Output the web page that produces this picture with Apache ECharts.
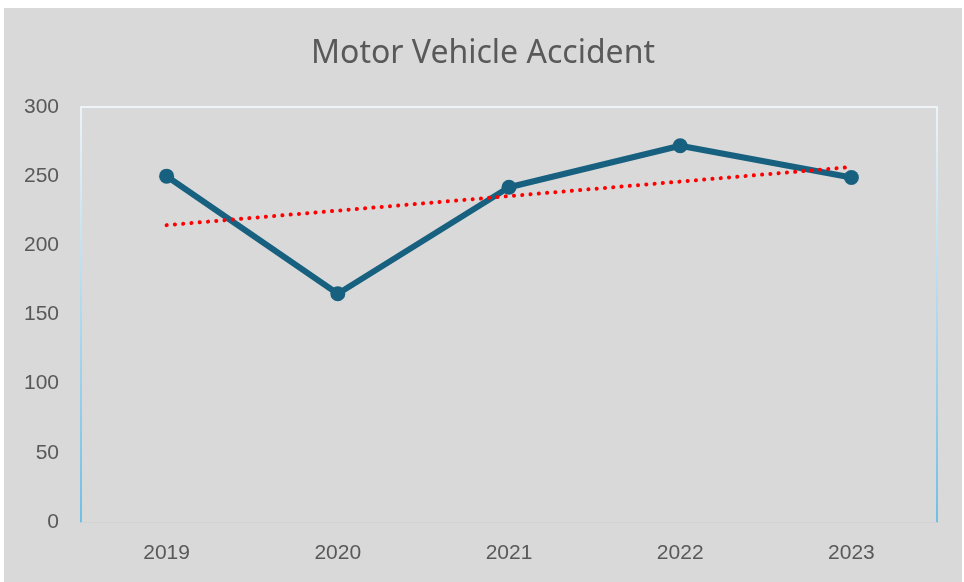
<!DOCTYPE html>
<html>
<head>
<meta charset="utf-8">
<script src="https://cdn.jsdelivr.net/npm/echarts@6/dist/echarts.min.js"></script>
<style>
  html, body { margin: 0; padding: 0; background: #fff; }
  #chart {
    position: absolute;
    left: 4px;
    top: 8px;
    width: 958px;
    height: 574px;
    background: #d9d9d9;
  }
</style>
</head>
<body>
<div id="chart"></div>
<script>
// values
const years = ['2019', '2020', '2021', '2022', '2023']
const accidents = [250, 165, 242, 272, 249]
// linear trendline end points (2019 -> 2023)
const trendYears = ['2019', '2023']
const trendValues = [214.6, 256.6]
const yTicks = [0, 50, 100, 150, 200, 250, 300]

const chart = echarts.init(document.getElementById('chart'))

const sideLine = {
  show: true,
  lineStyle: {
    width: 2,
    color: new echarts.graphic.LinearGradient(0, 0, 0, 1, [
      { offset: 0, color: '#eef4f8' },
      { offset: 1, color: '#6fbfe6' }
    ])
  }
}

const option = {
  animation: false,
  title: {
    text: 'Motor Vehicle Accident',
    left: 'center',
    top: 25,
    textStyle: {
      fontFamily: 'Noto Sans',
      fontSize: 32,
      fontWeight: 'normal',
      color: '#595959'
    }
  },
  grid: {
    left: 77,
    right: 25,
    top: 99,
    bottom: 60
  },
  xAxis: {
    type: 'category',
    data: years,
    boundaryGap: true,
    axisLine: { show: true, lineStyle: { color: '#d3d3d3', width: 1 } },
    axisTick: { show: false },
    axisLabel: {
      margin: 21,
      fontFamily: 'Liberation Sans',
      fontSize: 21,
      color: '#595959'
    }
  },
  yAxis: [
    {
      type: 'value',
      min: yTicks[0],
      max: yTicks[yTicks.length - 1],
      interval: 50,
      axisLine: sideLine,
      axisTick: { show: false },
      axisLabel: {
        margin: 22,
        fontFamily: 'Liberation Sans',
        fontSize: 21,
        color: '#595959'
      },
      splitLine: {
        show: true,
        lineStyle: {
          width: 2,
          color: ['rgba(0,0,0,0)', 'rgba(0,0,0,0)', 'rgba(0,0,0,0)', 'rgba(0,0,0,0)',
                  'rgba(0,0,0,0)', 'rgba(0,0,0,0)', '#eef4f8']
        }
      }
    },
    {
      type: 'value',
      position: 'right',
      min: yTicks[0],
      max: yTicks[yTicks.length - 1],
      interval: 50,
      axisLine: sideLine,
      axisTick: { show: false },
      axisLabel: { show: false },
      splitLine: { show: false }
    }
  ],
  series: [
    {
      name: 'Motor Vehicle Accident',
      type: 'line',
      data: accidents,
      symbol: 'circle',
      symbolSize: 15,
      lineStyle: { color: '#17607f', width: 6 },
      itemStyle: { color: '#17607f' },
      z: 3
    },
    {
      name: 'Trend',
      type: 'line',
      data: trendYears.map((y, i) => [y, trendValues[i]]),
      symbol: 'none',
      lineStyle: {
        color: '#ff0000',
        width: 4,
        type: [0.1, 8.2],
        cap: 'round'
      },
      z: 4
    }
  ]
}

chart.setOption(option)
</script>
</body>
</html>
